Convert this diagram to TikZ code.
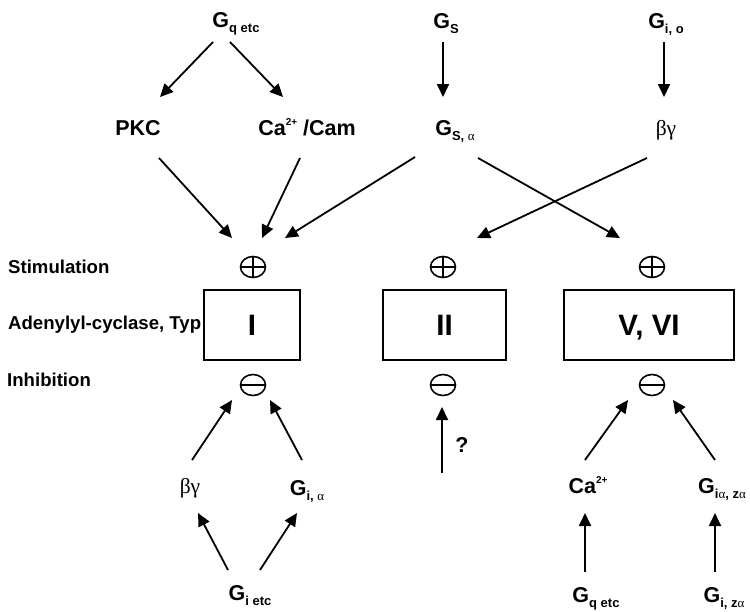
\documentclass[tikz,border=0pt]{standalone}
\usepackage{fontspec}
\setmainfont{Liberation Sans}
\newfontfamily\grk{Liberation Serif}
\usetikzlibrary{arrows.meta,shapes.geometric}
\newcommand\Sb[1]{\raisebox{-5pt}{\fontsize{13}{13}\selectfont #1}}
\newcommand\Sp[1]{\raisebox{9.5pt}{\fontsize{10}{10}\selectfont #1}}
\newcommand\gAlpha{{\grk\mdseries α}}
\newcommand\gBG{{\grk\mdseries βγ}}
\begin{document}
\begin{tikzpicture}[x=1pt,y=-1pt,
  lbl/.style={font=\fontsize{21.5}{24}\selectfont\bfseries, anchor=base, inner sep=0pt},
  side/.style={font=\fontsize{18.6}{22}\selectfont\bfseries, anchor=west, inner sep=0pt},
  arr/.style={-{Triangle[length=13pt,width=12pt]}, line width=1.8pt},
  acbox/.style={draw, line width=1.8pt, minimum height=70pt, inner sep=0pt,
    text height=21pt, text depth=0pt,
    font=\fontsize{29.5}{30}\selectfont\bfseries},
  sign/.style={ellipse, draw, line width=1.6pt, minimum width=25pt, minimum height=21pt, inner sep=0pt},
  plussign/.style={sign, path picture={\draw[line width=1.6pt]
     (path picture bounding box.north) -- (path picture bounding box.south)
     (path picture bounding box.west) -- (path picture bounding box.east);}},
  minussign/.style={sign, path picture={\draw[line width=1.6pt]
     (path picture bounding box.west) -- (path picture bounding box.east);}}]
\fill[white] (0,0) rectangle (750,611);
\useasboundingbox (0,0) rectangle (750,611);

% top row
\node[lbl] (gq)  at (236,27) {G\Sb{q etc}};
\node[lbl] (gs)  at (446,28) {G\Sb{S}};
\node[lbl] (gio) at (666,28) {G\Sb{i, o}};
% second row
\node[lbl] (pkc) at (138,135) {PKC};
\node[lbl] (ca)  at (307,135) {Ca\Sp{2+} /Cam};
\node[lbl] (gsa) at (455,135) {G\Sb{S, \gAlpha}};
\node[lbl] (bg)  at (666,135) {\gBG};

% side labels
\node[side] (stim) at (8,267) {Stimulation};
\node[side] (typ)  at (8,325) {Adenylyl-cyclase, Typ};
\node[side] (inh)  at (7,380) {Inhibition};

% signs and boxes
\node[plussign] (p1) at (253,267) {};
\node[plussign] (p2) at (443,267) {};
\node[plussign] (p3) at (652,267) {};
\node[acbox, minimum width=96pt]  (b1) at (252,325) {I};
\node[acbox, minimum width=123pt] (b2) at (444.5,325) {II};
\node[acbox, minimum width=170pt] (b3) at (649,325) {V, VI};
\node[minussign] (m1) at (253,385) {};
\node[minussign] (m2) at (443,385) {};
\node[minussign] (m3) at (652,385) {};

% lower part
\node[lbl] (bg2)   at (190,493) {\gBG};
\node[lbl] (gia)   at (307,495) {G\Sb{i, \gAlpha}};
\node[lbl] (gietc) at (250,600) {G\Sb{i etc}};
\node[lbl] (q)     at (462,452) {?};
\coordinate (qs) at (442,473);
\node[lbl] (ca2)   at (588,493) {Ca\Sp{2+}};
\node[lbl] (gizA)  at (722,493) {G\Sb{i\gAlpha, z\gAlpha}};
\node[lbl] (gq2)   at (596,602) {G\Sb{q etc}};
\node[lbl] (giz)   at (724,602) {G\Sb{i, z\gAlpha}};

% arrows top
\draw[arr] ([shift={(-23,15)}]gq.base) -- ([shift={(22,-38)}]pkc.base);
\draw[arr] ([shift={(-6,15)}]gq.base) -- ([shift={(-24,-38)}]ca.base);
\draw[arr] ([shift={(-3,14)}]gs.base) -- ([shift={(-12,-38)}]gsa.base);
\draw[arr] ([shift={(-2,14)}]gio.base) -- ([shift={(-2,-38)}]bg.base);
% arrows to stimulation
\draw[arr] ([shift={(21,23)}]pkc.base) -- ([shift={(-21,-29)}]p1.center);
\draw[arr] ([shift={(-7,23)}]ca.base) -- ([shift={(9,-29)}]p1.center);
\draw[arr] ([shift={(-40,22)}]gsa.base) -- ([shift={(32,-29)}]p1.center);
\draw[arr] ([shift={(23,23)}]gsa.base) -- ([shift={(-32,-29)}]p3.center);
\draw[arr] ([shift={(-19,23)}]bg.base) -- ([shift={(34,-29)}]p2.center);
% arrows to inhibition
\draw[arr] ([shift={(2,-33)}]bg2.base) -- ([shift={(-21,15)}]m1.center);
\draw[arr] ([shift={(-5,-35)}]gia.base) -- ([shift={(17,15)}]m1.center);
\draw[arr] ([shift={(-22,-30)}]gietc.base) -- ([shift={(8,20)}]bg2.base);
\draw[arr] ([shift={(10,-30)}]gietc.base) -- ([shift={(-10,18)}]gia.base);
\draw[arr] (qs) -- ([shift={(-1,22)}]m2.center);
\draw[arr] ([shift={(-3,-33)}]ca2.base) -- ([shift={(-24,15)}]m3.center);
\draw[arr] ([shift={(-7,-33)}]gizA.base) -- ([shift={(21,15)}]m3.center);
\draw[arr] ([shift={(-11,-30)}]gq2.base) -- ([shift={(-3,20)}]ca2.base);
\draw[arr] ([shift={(-9,-30)}]giz.base) -- ([shift={(-7,20)}]gizA.base);
\end{tikzpicture}
\end{document}
